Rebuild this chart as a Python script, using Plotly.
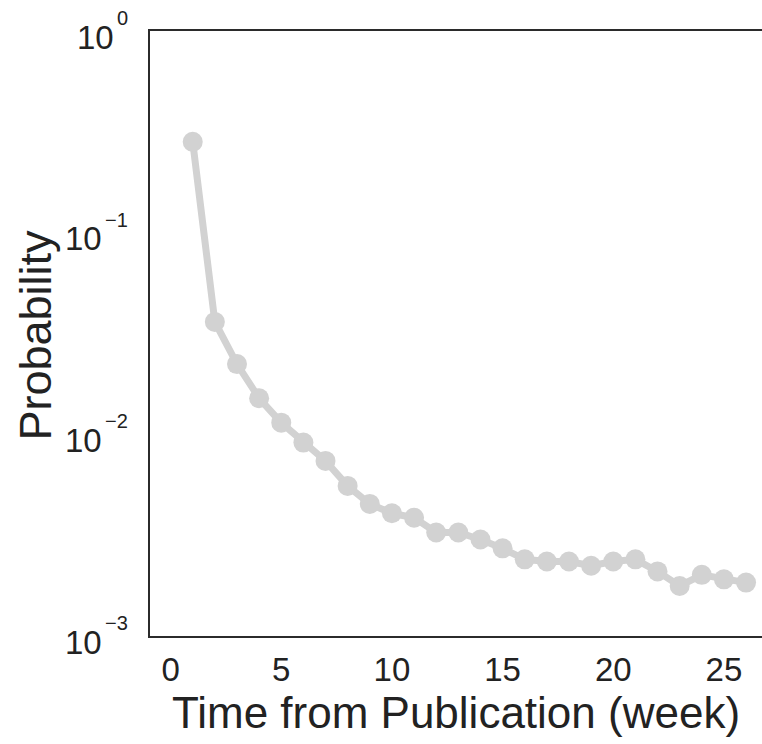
import math
import plotly.graph_objects as go

# Weekly probability after publication
weeks = list(range(1, 27))
probability = [
    0.282, 0.0361, 0.0223, 0.0151, 0.01143, 0.00910, 0.00738, 0.00555,
    0.00452, 0.00406, 0.00386, 0.00326, 0.00326, 0.00301, 0.00272, 0.00240,
    0.00234, 0.00234, 0.00223, 0.00234, 0.00240, 0.00209, 0.00177, 0.00201,
    0.00191, 0.00184,
]

y_tick_vals = [1e-3, 1e-2, 1e-1, 1]
x_tick_vals = [0, 5, 10, 15, 20, 25]
x_title = "Time from Publication (week)"
y_title = "Probability"

FONT = "Liberation Sans, Arial, sans-serif"
GRAY = "#d2d2d2"
AXIS = "#2b2b2b"
TEXT = "#222222"

BASE_SIZE = 33
EXP_SIZE = 20
# Arial/Liberation Sans advance widths (em) for the exponent glyphs
ADV = {"−": 0.584, "0": 0.556, "1": 0.556, "2": 0.556, "3": 0.556}

fig = go.Figure(
    go.Scatter(
        x=weeks,
        y=probability,
        mode="lines+markers",
        line=dict(color=GRAY, width=7),
        marker=dict(color=GRAY, size=20),
        hoverinfo="x+y",
    )
)

# Log-axis labels drawn as "10" plus a raised exponent
annotations = []
for v in y_tick_vals:
    p = round(math.log10(v))
    exp_txt = str(p).replace("-", "−")
    exp_w = sum(ADV[c] for c in exp_txt) * EXP_SIZE
    annotations.append(dict(
        xref="paper", yref="y", x=0, y=p, text=exp_txt, showarrow=False,
        xanchor="right", yanchor="bottom", xshift=-20, yshift=0,
        font=dict(size=EXP_SIZE, family=FONT, color=TEXT),
    ))
    annotations.append(dict(
        xref="paper", yref="y", x=0, y=p, text="10", showarrow=False,
        xanchor="right", yanchor="middle", xshift=-20 - exp_w - 3, yshift=-6,
        font=dict(size=BASE_SIZE, family=FONT, color=TEXT),
    ))

annotations.append(dict(
    xref="paper", yref="paper", x=0, y=0.5, text=y_title, showarrow=False,
    textangle=-90, xanchor="center", yanchor="middle", xshift=-115, yshift=-2,
    font=dict(size=45, family=FONT, color=TEXT),
))

fig.update_layout(
    width=762,
    height=744,
    margin=dict(l=150, r=0, t=31, b=108),
    paper_bgcolor="white",
    plot_bgcolor="white",
    showlegend=False,
    font=dict(family=FONT, color=TEXT),
    annotations=annotations,
)

fig.update_xaxes(
    range=[-0.93, 26.72],
    tickvals=x_tick_vals,
    ticks="",
    ticklabelstandoff=3,
    tickfont=dict(size=BASE_SIZE, family=FONT),
    showgrid=False,
    zeroline=False,
    showline=True,
    linecolor=AXIS,
    linewidth=2,
    mirror=True,
    title=dict(text=x_title, font=dict(size=44, family=FONT), standoff=4),
)

fig.update_yaxes(
    type="log",
    range=[-3, 0],
    tickvals=y_tick_vals,
    showticklabels=False,
    ticks="",
    showgrid=False,
    zeroline=False,
    showline=True,
    linecolor=AXIS,
    linewidth=2,
)

fig.write_html("out.html")
